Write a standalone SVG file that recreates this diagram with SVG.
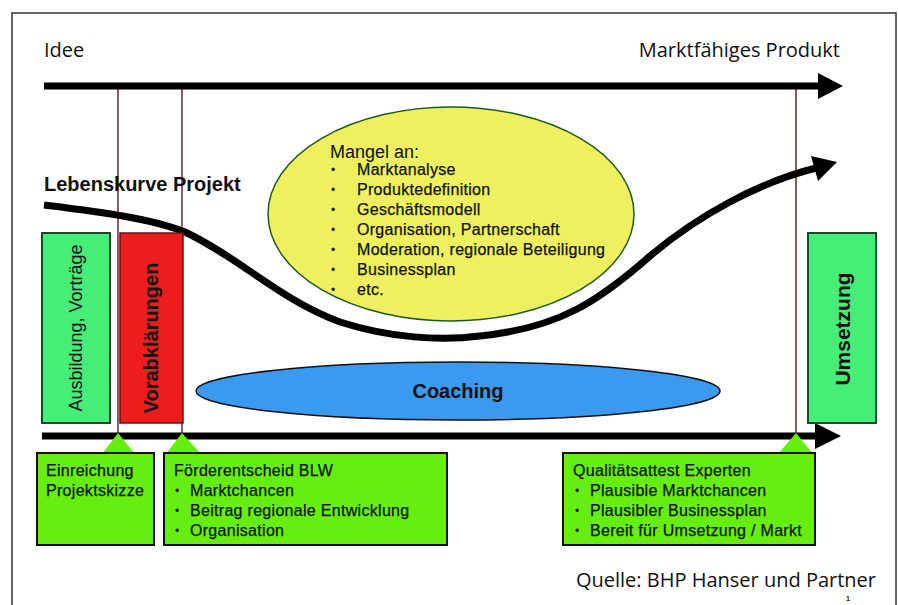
<svg xmlns="http://www.w3.org/2000/svg" width="898" height="605" viewBox="0 0 898 605">
<style>
.thin{font-family:"Open Sans","Noto Sans","Liberation Sans",sans-serif;font-size:20px;fill:#111}
.sm{font-family:"Liberation Sans",Arial,sans-serif;font-size:16px;letter-spacing:0.3px;fill:#111;stroke:#111;stroke-width:0.25}
.bl{font-family:"Liberation Sans",Arial,sans-serif;font-size:12px;fill:#111}
.bd{font-family:"Liberation Sans",Arial,sans-serif;font-weight:bold;fill:#111}
.vline{stroke:#5a2a2a;stroke-width:1.5;fill:none}
.axis{stroke:#000;stroke-width:7;fill:none}
.box{fill:#66ee11;stroke:#111;stroke-width:2}
.tri{fill:#66ee11;stroke:none}
</style>
<rect x="0" y="0" width="898" height="605" fill="#fff"/>
<path d="M12,605 V13 H896 V605" fill="none" stroke="#333" stroke-width="1.5"/>

<text class="thin" x="44" y="57">Idee</text>
<text class="thin" x="840" y="57" text-anchor="end">Marktfähiges Produkt</text>

<g id="connectors">
<line class="vline" x1="118" y1="85" x2="118" y2="435"/>
<line class="vline" x1="182" y1="85" x2="182" y2="435"/>
<line class="vline" x1="796" y1="85" x2="796" y2="435"/>
<line class="axis" x1="44" y1="86" x2="820" y2="86"/>
<polygon points="818,73 843,86 818,99" fill="#000"/>
<line class="axis" x1="42" y1="436" x2="818" y2="436"/>
<polygon points="815,423 841,436 815,449" fill="#000"/>
</g>

<g id="yellow-ellipse">
<ellipse cx="451" cy="214" rx="183" ry="107" fill="#eef060" stroke="#1e5a1e" stroke-width="1.5"/>
<text x="330" y="158" style="font-family:'Liberation Sans',Arial,sans-serif;font-size:18px;fill:#111">Mangel an:</text>
<g class="bl">
<text x="331" y="174">•</text><text x="331" y="194">•</text><text x="331" y="214">•</text><text x="331" y="234">•</text><text x="331" y="254">•</text><text x="331" y="274">•</text><text x="331" y="294">•</text>
</g>
<g class="sm">
<text x="357" y="175">Marktanalyse</text>
<text x="357" y="195">Produktedefinition</text>
<text x="357" y="215">Geschäftsmodell</text>
<text x="357" y="235">Organisation, Partnerschaft</text>
<text x="357" y="255">Moderation, regionale Beteiligung</text>
<text x="357" y="275">Businessplan</text>
<text x="357" y="295">etc.</text>
</g>
</g>

<g id="lebenskurve">
<text class="bd" x="44" y="191" font-size="20">Lebenskurve Projekt</text>
<path d="M44,205 C100,212 150,218 185,232 C240,258 280,300 340,322 C390,338 440,341 480,336 C560,328 600,300 650,256 C700,214 760,182 816,168" fill="none" stroke="#000" stroke-width="7"/>
<polygon points="811,156 837,162 818,181" fill="#000"/>
</g>

<g id="ausbildung">
<rect x="42" y="233" width="68" height="190" fill="#44ee77" stroke="#1a4a2a" stroke-width="2"/>
<text x="76" y="328" transform="rotate(-90 76 328)" text-anchor="middle" dominant-baseline="central" style="font-family:'Liberation Sans',Arial,sans-serif;font-size:18px;fill:#111">Ausbildung, Vorträge</text>
</g>

<g id="vorabklaerungen">
<rect x="120" y="233" width="63" height="190" fill="#ee1c1c" stroke="#6a1010" stroke-width="1.5"/>
<text class="bd" x="151" y="338" font-size="20" transform="rotate(-90 151 338)" text-anchor="middle" dominant-baseline="central">Vorabklärungen</text>
</g>

<g id="umsetzung">
<rect x="808" y="233" width="68" height="190" fill="#44ee77" stroke="#1a4a2a" stroke-width="2"/>
<text class="bd" x="842" y="329" font-size="21" transform="rotate(-90 842 329)" text-anchor="middle" dominant-baseline="central">Umsetzung</text>
</g>

<g id="coaching">
<ellipse cx="458" cy="391" rx="262" ry="29" fill="#3a9af0" stroke="#111" stroke-width="1.5"/>
<text class="bd" x="458" y="398" font-size="20" text-anchor="middle">Coaching</text>
</g>

<g id="einreichung">
<polygon class="tri" points="118,433 102,454 135,454"/>
<rect class="box" x="37" y="453" width="117" height="92"/>
<text class="sm" x="46" y="476">Einreichung</text>
<text class="sm" x="46" y="496">Projektskizze</text>
</g>

<g id="foerderentscheid">
<polygon class="tri" points="182,433 166,454 201,454"/>
<rect class="box" x="164" y="453" width="283" height="92"/>
<g class="bl"><text x="175" y="495">•</text><text x="175" y="515">•</text><text x="175" y="535">•</text></g>
<g class="sm">
<text x="174" y="476">Förderentscheid BLW</text>
<text x="190" y="496">Marktchancen</text>
<text x="190" y="516">Beitrag regionale Entwicklung</text>
<text x="190" y="536">Organisation</text>
</g>
</g>

<g id="qualitaetsattest">
<polygon class="tri" points="796,433 778,454 813,454"/>
<rect class="box" x="563" y="453" width="252" height="92"/>
<g class="bl"><text x="575" y="495">•</text><text x="575" y="515">•</text><text x="575" y="535">•</text></g>
<g class="sm">
<text x="573" y="476">Qualitätsattest Experten</text>
<text x="590" y="496">Plausible Marktchancen</text>
<text x="590" y="516">Plausibler Businessplan</text>
<text x="590" y="536">Bereit für Umsetzung / Markt</text>
</g>
</g>

<text class="thin" x="876" y="587" text-anchor="end">Quelle: BHP Hanser und Partner</text>
<text class="bd" x="848" y="601" font-size="7" text-anchor="middle">1</text>
</svg>
